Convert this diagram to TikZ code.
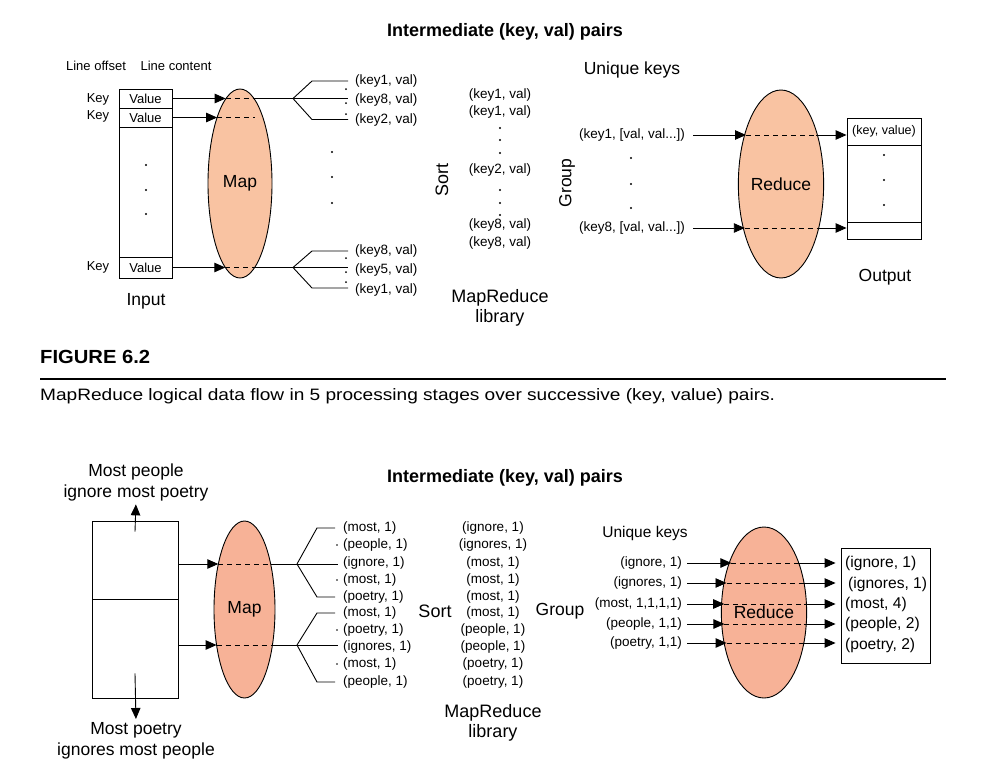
\documentclass[tikz,border=0pt]{standalone}
\usepackage{fontspec}
\setmainfont{Liberation Sans}
\usepackage{graphicx}
\usetikzlibrary{shapes.geometric,arrows.meta,calc}
\definecolor{mapA}{RGB}{249,195,162}
\definecolor{mapB}{RGB}{247,178,151}
\begin{document}
\begin{tikzpicture}[x=1pt,y=-1pt,
  txt/.style={inner sep=0pt, font=\fontsize{13.5}{16}\selectfont},
  sml/.style={inner sep=0pt, font=\fontsize{13}{15}\selectfont},
  big/.style={inner sep=0pt, align=center, font=\fontsize{17.5}{21}\selectfont},
  ttl/.style={inner sep=0pt, font=\fontsize{18}{21}\selectfont\bfseries},
  ln/.style={line width=0.9pt},
  cell/.style={draw, ln, inner sep=0pt, sml},
  boxx/.style={draw, ln, inner sep=0pt},
  oval/.style={ellipse, draw, ln, inner sep=0pt},
  arr/.style={ln, -{Triangle[length=11pt,width=9.5pt]}},
  dsh/.style={ln, dash pattern=on 5pt off 4pt},
  outl/.style={inner sep=0pt, anchor=west, font=\fontsize{15.6}{18}\selectfont}
]
\path[fill=white,use as bounding box] (0,0) rectangle (994,772);

% ================= TOP FIGURE =================
\node[ttl] (t1) at (505,32) {Intermediate (key, val) pairs};
\node[sml] (lo) at (96,66) {Line offset};
\node[sml] (lc) at (176,66) {Line content};

\node[cell, minimum width=53pt, minimum height=19pt] (v1) at (145.5,98.5) {Value};
\node[cell, minimum width=53pt, minimum height=19pt] (v2) at (145.5,117.5) {Value};
\node[boxx, minimum width=53pt, minimum height=130pt] (vb) at (145.5,192) {};
\node[cell, minimum width=53pt, minimum height=21pt] (v3) at (145.5,267.5) {Value};
\foreach \yy in {165,190,214} \fill (146,\yy) circle (1.2pt);

\node[sml] (k1) at (98,99) {Key};
\node[sml] (k2) at (98,116) {Key};
\node[sml] (k3) at (98,267) {Key};
\node[big] (inp) at (146,301) {Input};

\node[oval, fill=mapA, minimum width=64pt, minimum height=189pt, big] (m1) at (240,183.5) {Map};

\coordinate (a1) at (225.7,98.5);
\coordinate (a1r) at (254.3,98.5);
\coordinate (f1) at (293,98.5);
\draw[arr] (v1.east) -- (a1);
\draw[dsh] (a1) -- (a1r);
\draw[ln] (a1r) -- (f1);

\coordinate (a2) at (217.1,117.5);
\coordinate (a2e) at (255,117.5);
\draw[arr] (v2.east) -- (a2);
\draw[dsh] (a2) -- (a2e);

\coordinate (a3) at (225.3,267.5);
\coordinate (a3r) at (254.7,267.5);
\coordinate (f2) at (293,267.5);
\draw[arr] (v3.east) -- (a3);
\draw[dsh] (a3) -- (a3r);
\draw[ln] (a3r) -- (f2);

\draw[ln] (f1) -- ++(19,-17.5) -- ++(36,0);
\draw[ln] (f1) -- ++(55,0);
\draw[ln] (f1) -- ++(19,21) -- ++(36,0);
\draw[ln] (f2) -- ++(19,-16.5) -- ++(36,0);
\draw[ln] (f2) -- ++(55,0);
\draw[ln] (f2) -- ++(19,20.5) -- ++(36,0);

\node[txt, anchor=west] (p1) at (355,81) {(key1, val)};
\node[txt, anchor=west] (p2) at (355,100.5) {(key8, val)};
\node[txt, anchor=west] (p3) at (355,120) {(key2, val)};
\node[txt, anchor=west] (p4) at (355,251) {(key8, val)};
\node[txt, anchor=west] (p5) at (355,270) {(key5, val)};
\node[txt, anchor=west] (p6) at (355,290) {(key1, val)};
\foreach \yy in {89,103,114,258,272,282} \fill (346,\yy) circle (1pt);
\foreach \yy in {152,177,203} \fill (332,\yy) circle (1.2pt);

\node[big, font=\fontsize{18}{20}\selectfont, rotate=90] (sort1) at (442,180) {Sort};
\node[txt] (s1) at (500,95) {(key1, val)};
\node[txt] (s2) at (500,112) {(key1, val)};
\node[txt] (s3) at (500,170) {(key2, val)};
\node[txt] (s4) at (500,225) {(key8, val)};
\node[txt] (s5) at (500,243) {(key8, val)};
\foreach \yy in {128,140,153,190,203,215} \fill (500,\yy) circle (1.1pt);
\node[big, font=\fontsize{18}{20}\selectfont] (lib1) at (500,308) {MapReduce\\library};

\node[big, rotate=90] (grp1) at (567,183) {Group};
\node[big] (uk1) at (632,70) {Unique keys};
\node[txt] (g1) at (632,135) {(key1, [val, val...])};
\node[txt] (g2) at (632,228) {(key8, [val, val...])};
\foreach \yy in {158,184,208} \fill (631,\yy) circle (1.2pt);

\node[oval, fill=mapA, minimum width=82pt, minimum height=188pt, big] (r1) at (781,184) {Reduce};

\node[cell, minimum width=74pt, minimum height=27pt, font=\fontsize{12.5}{15}\selectfont] (o1) at (884,131.5) {(key, value)};
\node[boxx, minimum width=74pt, minimum height=77pt] (o2) at (884,183.5) {};
\node[boxx, minimum width=74pt, minimum height=17pt] (o3) at (884,230.5) {};
\foreach \yy in {155,180,205} \fill (884,\yy) circle (1.2pt);
\node[big] (out1) at (885,277) {Output};

\coordinate (b1) at (746,135);
\coordinate (b1r) at (816,135);
\coordinate (b2) at (744.8,228);
\coordinate (b2r) at (817.2,228);
\draw[arr] ([xshift=8pt]g1.east) -- (b1);
\draw[dsh] (b1) -- (b1r);
\draw[arr] (b1r) -- (o1.west |- b1r);
\draw[arr] ([xshift=8pt]g2.east) -- (b2);
\draw[dsh] (b2) -- (b2r);
\draw[arr] (b2r) -- (o3.west |- b2r);

% ================= CAPTION =================
\node[anchor=west, inner sep=0pt, font=\fontsize{19}{22}\selectfont\bfseries] (fig) at (40,357) {\resizebox{110pt}{\height}{FIGURE 6.2}};
\draw[line width=1.2pt] (40,379) -- (946,379);
\node[anchor=west, inner sep=0pt, font=\fontsize{16.5}{19}\selectfont] (cap) at (40,396) {\resizebox{735pt}{\height}{MapReduce logical data flow in 5 processing stages over successive (key, value) pairs.}};

% ================= BOTTOM FIGURE =================
\node[ttl] (t2) at (505,478) {Intermediate (key, val) pairs};
\node[big] (mp) at (136,482.5) {Most people\\ignore most poetry};
\node[big] (mq) at (136,740.5) {Most poetry\\ignores most people};
\node[boxx, minimum width=86pt, minimum height=78pt] (tb) at (135,560) {};
\node[boxx, minimum width=86pt, minimum height=99pt] (bb) at (135,648.5) {};
\draw[arr, shorten >=3pt] ([yshift=-11pt]tb.north) -- (mp.south);
\draw[arr, shorten >=3pt] ([yshift=25pt]bb.south) -- (mq.north);

\node[oval, fill=mapB, minimum width=61pt, minimum height=177pt, big] (m2) at (244.5,609.5) {Map};

\coordinate (c1) at (218.3,564);
\coordinate (c1r) at (270.7,564);
\coordinate (e1) at (297,564);
\coordinate (c2) at (216.6,645);
\coordinate (c2r) at (272.4,645);
\coordinate (e2) at (297,645);
\draw[arr] ([yshift=-4pt]tb.east) -- (c1);
\draw[dsh] (c1) -- (c1r);
\draw[ln] (c1r) -- (e1);
\draw[arr] ([yshift=3.5pt]bb.east) -- (c2);
\draw[dsh] (c2) -- (c2r);
\draw[ln] (c2r) -- (e2);

\draw[ln] (e1) -- ++(20,-36) -- ++(18,0);
\draw[ln] (e1) -- ++(41,0);
\draw[ln] (e1) -- ++(20,33) -- ++(18,0);
\draw[ln] (e2) -- ++(20,-32) -- ++(18,0);
\draw[ln] (e2) -- ++(41,0);
\draw[ln] (e2) -- ++(20,37) -- ++(18,0);

\node[txt, anchor=west] (w1) at (343,528) {(most, 1)};
\node[txt, anchor=west] (w2) at (343,545) {(people, 1)};
\node[txt, anchor=west] (w3) at (343,563) {(ignore, 1)};
\node[txt, anchor=west] (w4) at (343,580) {(most, 1)};
\node[txt, anchor=west] (w5) at (343,597) {(poetry, 1)};
\node[txt, anchor=west] (w6) at (343,613) {(most, 1)};
\node[txt, anchor=west] (w7) at (343,630) {(poetry, 1)};
\node[txt, anchor=west] (w8) at (343,647) {(ignores, 1)};
\node[txt, anchor=west] (w9) at (343,664) {(most, 1)};
\node[txt, anchor=west] (w10) at (343,682) {(people, 1)};
\foreach \yy in {545,580,630,664} \fill (337,\yy) circle (0.9pt);

\node[big, font=\fontsize{18}{20}\selectfont] (sort2) at (435,611) {Sort};
\node[txt] (z1) at (493,528) {(ignore, 1)};
\node[txt] (z2) at (493,545) {(ignores, 1)};
\node[txt] (z3) at (493,563) {(most, 1)};
\node[txt] (z4) at (493,580) {(most, 1)};
\node[txt] (z5) at (493,597) {(most, 1)};
\node[txt] (z6) at (493,613) {(most, 1)};
\node[txt] (z7) at (493,630) {(people, 1)};
\node[txt] (z8) at (493,647) {(people, 1)};
\node[txt] (z9) at (493,664) {(poetry, 1)};
\node[txt] (z10) at (493,682) {(poetry, 1)};
\node[big] (grp2) at (560,611) {Group};
\node[big, font=\fontsize{18}{20}\selectfont] (lib2) at (493,723) {MapReduce\\library};

\node[big, font=\fontsize{15.5}{18}\selectfont] (uk2) at (645,533) {Unique keys};
\node[txt, anchor=east] (h1) at (682,563) {(ignore, 1)};
\node[txt, anchor=east] (h2) at (682,583) {(ignores, 1)};
\node[txt, anchor=east] (h3) at (682,604) {(most, 1,1,1,1)};
\node[txt, anchor=east] (h4) at (682,624) {(people, 1,1)};
\node[txt, anchor=east] (h5) at (682,643) {(poetry, 1,1)};

\node[oval, fill=mapB, minimum width=80pt, minimum height=171pt, big] (r2) at (764,612.5) {Reduce};
\node[boxx, minimum width=89pt, minimum height=115pt] (ob) at (885.5,605.5) {};
\node[outl] (q1) at (845,563) {(ignore, 1)};
\node[outl] (q2) at (848,584) {(ignores, 1)};
\node[outl] (q3) at (845,604) {(most, 4)};
\node[outl] (q4) at (845,624) {(people, 2)};
\node[outl] (q5) at (845,645) {(poetry, 2)};

\foreach \i/\yy/\lx/\rx in {1/563/731.4/796.6, 2/583/726.5/801.5, 3/604/724.2/803.8, 4/624/724.4/803.6, 5/643/726.6/801.4}{
  \coordinate (L\i) at (\lx,\yy);
  \coordinate (R\i) at (\rx,\yy);
  \draw[arr] ([xshift=5pt]h\i.east |- L\i) -- (L\i);
  \draw[dsh] (L\i) -- (R\i);
  \draw[arr, shorten >=5pt] (R\i) -- (ob.west |- R\i);
}
\end{tikzpicture}
\end{document}
